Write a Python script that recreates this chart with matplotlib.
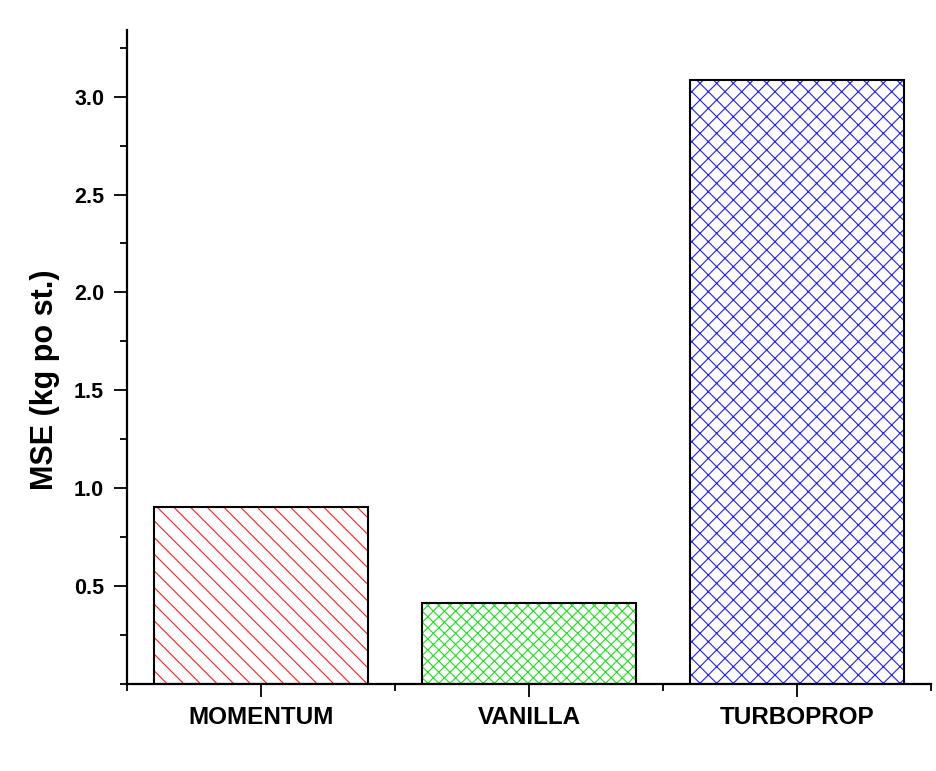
import numpy as np
import matplotlib.pyplot as plt
from matplotlib.ticker import MultipleLocator

methods = ['MOMENTUM', 'VANILLA', 'TURBOPROP']
mse = [0.905, 0.412, 3.087]
hatch_colors = ['#ff2020', '#20e020', '#2020ff']
hatches = ['\\\\', 'xxx', 'xx']

plt.rcParams['font.family'] = ['Liberation Sans', 'DejaVu Sans']
plt.rcParams['hatch.linewidth'] = 0.8

fig = plt.figure(figsize=(9.36, 7.71), dpi=100)
ax = fig.add_axes([0.1357, 0.1128, 0.859, 0.8482])

x = np.arange(len(methods))
for i in range(len(methods)):
    # hatch drawn in the series colour, outline in black on top
    ax.bar(x[i], mse[i], width=0.8, color='white', edgecolor=hatch_colors[i],
           hatch=hatches[i], linewidth=0, zorder=2)
    ax.bar(x[i], mse[i], width=0.8, fill=False, edgecolor='black',
           linewidth=1.5, zorder=3)

ax.set_xlim(-0.5, 2.5)
ax.set_ylim(0, 3.34)
ax.set_xticks(x)
ax.set_xticklabels(methods, fontsize=17.5, fontweight='bold')
ax.xaxis.set_minor_locator(plt.FixedLocator([-0.5, 0.5, 1.5, 2.5]))
ax.set_yticks([0.5, 1.0, 1.5, 2.0, 2.5, 3.0])
ax.set_yticklabels(['0.5', '1.0', '1.5', '2.0', '2.5', '3.0'], fontsize=15.5, fontweight='bold')
ax.yaxis.set_minor_locator(MultipleLocator(0.25))

ax.tick_params(which='major', direction='out', length=9.5, width=1.3)
ax.tick_params(which='minor', direction='out', length=5, width=1.3)
ax.tick_params(axis='y', which='major', pad=7)
ax.tick_params(axis='x', which='major', pad=6)

ax.spines['top'].set_visible(False)
ax.spines['right'].set_visible(False)
ax.spines['left'].set_linewidth(1.6)
ax.spines['bottom'].set_linewidth(1.6)

ax.set_ylabel('MSE (kg po st.)', fontsize=22, fontweight='bold')
ax.yaxis.set_label_coords(-0.083, 0.466)

fig.savefig('out.png', dpi=100)
